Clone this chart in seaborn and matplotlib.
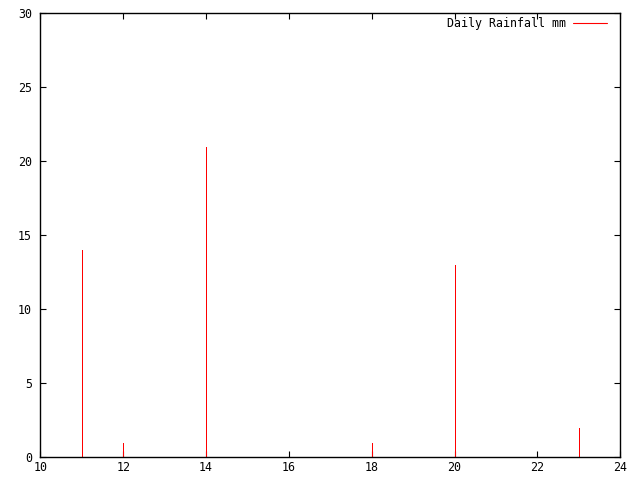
import matplotlib
matplotlib.use("Agg")
import matplotlib.pyplot as plt
from matplotlib.lines import Line2D
import seaborn as sns
import pandas as pd

days = [11, 12, 14, 18, 20, 23]
rainfall = [14, 1, 21, 1, 13, 2]
x_ticks = [10, 12, 14, 16, 18, 20, 22, 24]
y_ticks = [0, 5, 10, 15, 20, 25, 30]
series_label = "Daily Rainfall mm"

sns.set_style("ticks")
plt.rcParams['font.family'] = ['DejaVu Sans Mono']
plt.rcParams['text.color'] = 'black'

df = pd.DataFrame({"day": days, "rain": rainfall})

fig = plt.figure(figsize=(6.4, 4.8), dpi=100)
ax = fig.add_axes([40.3/640, 1 - 457.3/480, 580/640, 444/480])

sns.barplot(data=df, x="day", y="rain", native_scale=True, width=1e-4,
            color="red", saturation=1, edgecolor="red", linewidth=0.72, ax=ax)
for p in ax.patches:
    p.set_antialiased(False)
    p.set_facecolor("red")
    p.set_edgecolor("red")

ax.set_xlim(10, 24)
ax.set_ylim(0, 30)
ax.set_xticks(x_ticks)
ax.set_yticks(y_ticks)
ax.set_xlabel("")
ax.set_ylabel("")
for s in ax.spines.values():
    s.set_visible(True)
    s.set_color("black")
    s.set_linewidth(1.0)
ax.tick_params(direction="in", length=4, width=0.8, top=True, right=True,
               labelsize=8.4, colors="black")
ax.tick_params(axis="x", pad=3)
ax.tick_params(axis="y", pad=6)

handle = Line2D([], [], color="red", linewidth=0.8)
leg = ax.legend([handle], [series_label], loc="upper right", frameon=False,
                markerfirst=False, fontsize=8.4, handlelength=2.9,
                borderaxespad=0, borderpad=0, handletextpad=0.6,
                bbox_to_anchor=(0.977, 0.9917))
for t in leg.get_texts():
    t.set_color("black")

fig.savefig("out.png", dpi=100)
